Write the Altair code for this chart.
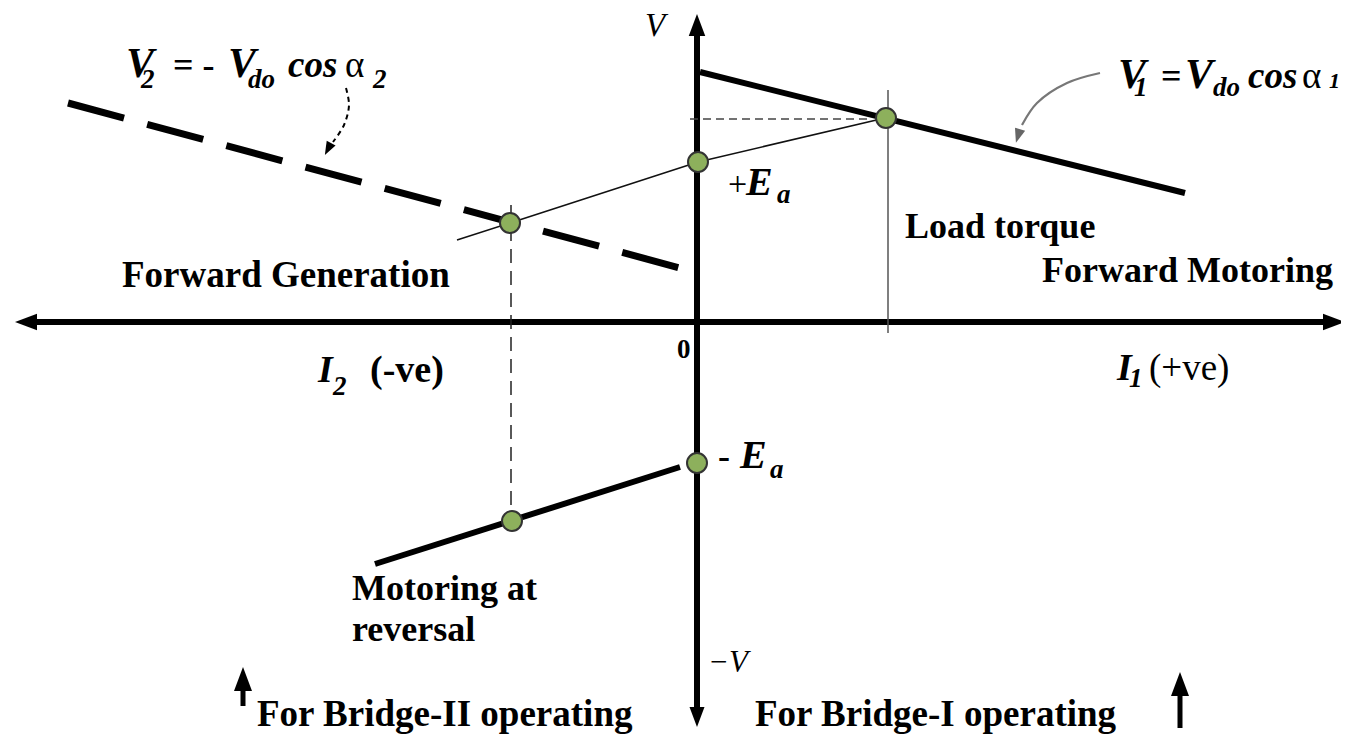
import altair as alt
import pandas as pd

# Diagram units: x = armature current, y = terminal voltage; origin where the axes cross.
X_DOMAIN = [-689, 644]
Y_DOMAIN = [-418, 314]

# Axes (drawn as thick arrows)
axis_h_x = [-672, 637]; axis_h_y = [0, 0]
axis_v_x = [0, 0]; axis_v_y = [290, -392]

# Characteristic lines
v1_x = [3, 488]; v1_y = [250, 129]                 # V1 = Vdo cos a1 (bridge I)
v2_x = [-629, -17]; v2_y = [219, 54]               # V2 = -Vdo cos a2 (bridge II)
rev_x = [-322, -17]; rev_y = [-242, -145]          # motoring at reversal
emf_x = [-240, -187, 1, 188]; emf_y = [82, 99, 160, 204]   # line through +Ea

# Guide lines
hguide_x = [-7, 175]; hguide_y = [203, 203]
vguide_x = [-186, -186]; vguide_y = [117, -196]
load_x = [191, 191]; load_y = [232, -11]

# Operating points
pt_x = [189, 1, -187, 0, -185]
pt_y = [204, 160, 99, -141, -199]

# Annotation arrows (curved leaders)
lead1_x = [403, 370, 340, 325]; lead1_y = [249, 239, 219, 197]
lead2_x = [-351, -348, -353, -364]; lead2_y = [234, 217, 197, 180]

# Bottom "operating" arrows
up_left_x = [-454, -454]; up_left_y = [-384, -360]
up_right_x = [483, 483]; up_right_y = [-406, -368]

# Arrowheads: centre x, y, rotation, size, colour
head_x = [-671, 637, 0, 0, -454, 483, 321, -369]
head_y = [0, 0, 297, -395, -357, -362, 186, 173]
head_a = [270, 90, 0, 180, 0, 0, 197, 208]
head_s = [484, 484, 484, 400, 576, 576, 200, 180]
head_c = ["#000", "#000", "#000", "#000", "#000", "#000", "#666", "#000"]

# Text labels (x = left edge, y = baseline)
bold_text = ["Forward Generation", "Load torque", "Forward Motoring", "Motoring at", "reversal",
             "For Bridge-II  operating", "For Bridge-I operating", "(-ve)", "0", "= -", "=", "-"]
bold_x = [-575, 208, 345, -345, -345, -440, 58, -327, -20, -524, 464, 21]
bold_y = [35, 84, 40, -278, -319, -404, -404, -60, -36, 245, 234, -146]
bold_s = [37, 36, 36, 36, 36, 37, 37, 38, 27, 36, 36, 36]

ital_text = ["V", "2", "V", "do", "cos", "2",
             "V", "1", "V", "do", "cos", "1",
             "E", "a", "E", "a", "I", "2", "I", "1"]
ital_x = [-571, -556, -469, -449, -409, -324,
          421, 437, 488, 516, 551, 632,
          49, 80, 43, 73, -379, -364, 420, 432]
ital_y = [245, 234, 245, 234, 245, 234,
          234, 226, 234, 226, 234, 234,
          127, 119, -146, -156, -60, -73, -58, -65]
ital_s = [42, 27, 42, 27, 37, 27,
          42, 27, 42, 27, 37, 22,
          40, 27, 40, 27, 38, 27, 38, 27]

reg_text = ["α", "α", "+", "(+ve)"]
reg_x = [-352, 605, 31, 452]
reg_y = [245, 234, 127, -58]
reg_s = [37, 37, 34, 37]

slant_text = ["V", "−V"]
slant_x = [-52, 11]
slant_y = [286, -350]
slant_s = [33, 31]

X = alt.X("x:Q", scale=alt.Scale(domain=X_DOMAIN), axis=None)
Y = alt.Y("y:Q", scale=alt.Scale(domain=Y_DOMAIN), axis=None)


def line(xs, ys, **kw):
    df = pd.DataFrame({"x": xs, "y": ys, "o": list(range(len(xs)))})
    return alt.Chart(df).mark_line(**kw).encode(X, Y, order="o:Q")


layers = [
    line(axis_h_x, axis_h_y, color="#000", strokeWidth=6),
    line(axis_v_x, axis_v_y, color="#000", strokeWidth=6),
    line(load_x, load_y, color="#555", strokeWidth=1.5),
    line(hguide_x, hguide_y, color="#444", strokeWidth=1.5, strokeDash=[8, 5]),
    line(vguide_x, vguide_y, color="#222", strokeWidth=1.5, strokeDash=[14, 8]),
    line(emf_x, emf_y, color="#111", strokeWidth=1.6),
    line(v1_x, v1_y, color="#000", strokeWidth=6),
    line(v2_x, v2_y, color="#000", strokeWidth=7, strokeDash=[58, 24], strokeCap="butt"),
    line(rev_x, rev_y, color="#000", strokeWidth=6),
    line(up_left_x, up_left_y, color="#000", strokeWidth=5),
    line(up_right_x, up_right_y, color="#000", strokeWidth=5),
    line(lead1_x, lead1_y, color="#777", strokeWidth=2.2, interpolate="catmull-rom"),
    line(lead2_x, lead2_y, color="#000", strokeWidth=2, strokeDash=[5, 4], interpolate="catmull-rom"),
]

heads = pd.DataFrame({"x": head_x, "y": head_y, "a": head_a, "s": head_s, "c": head_c})
layers.append(
    alt.Chart(heads).mark_point(shape="M0,-1L-0.75,1L0.75,1Z", filled=True, opacity=1, strokeWidth=0).encode(
        X, Y,
        angle=alt.Angle("a:Q", scale=None),
        size=alt.Size("s:Q", scale=None),
        color=alt.Color("c:N", scale=None),
    )
)

pts = pd.DataFrame({"x": pt_x, "y": pt_y})
layers.append(
    alt.Chart(pts).mark_point(shape="circle", filled=True, fill="#8db05c", stroke="#333",
                              strokeWidth=2, size=400, opacity=1).encode(X, Y)
)


def texts(t, xs, ys, ss, **kw):
    df = pd.DataFrame({"t": t, "x": xs, "y": ys, "s": ss})
    return alt.Chart(df).mark_text(align="left", baseline="alphabetic", font="Liberation Serif",
                                   color="#000", **kw).encode(
        X, Y, text="t:N", size=alt.Size("s:Q", scale=None))


layers.append(texts(bold_text, bold_x, bold_y, bold_s, fontWeight="bold"))
layers.append(texts(ital_text, ital_x, ital_y, ital_s, fontWeight="bold", fontStyle="italic"))
layers.append(texts(reg_text, reg_x, reg_y, reg_s, fontStyle="normal"))
layers.append(texts(slant_text, slant_x, slant_y, slant_s, fontStyle="italic"))

chart = alt.layer(*layers).properties(
    width=1333, height=732, padding=0, autosize=alt.AutoSizeParams(type="none")
).configure_view(stroke=None)

chart.save("out.html", embed_options={"renderer": "svg", "actions": False})
